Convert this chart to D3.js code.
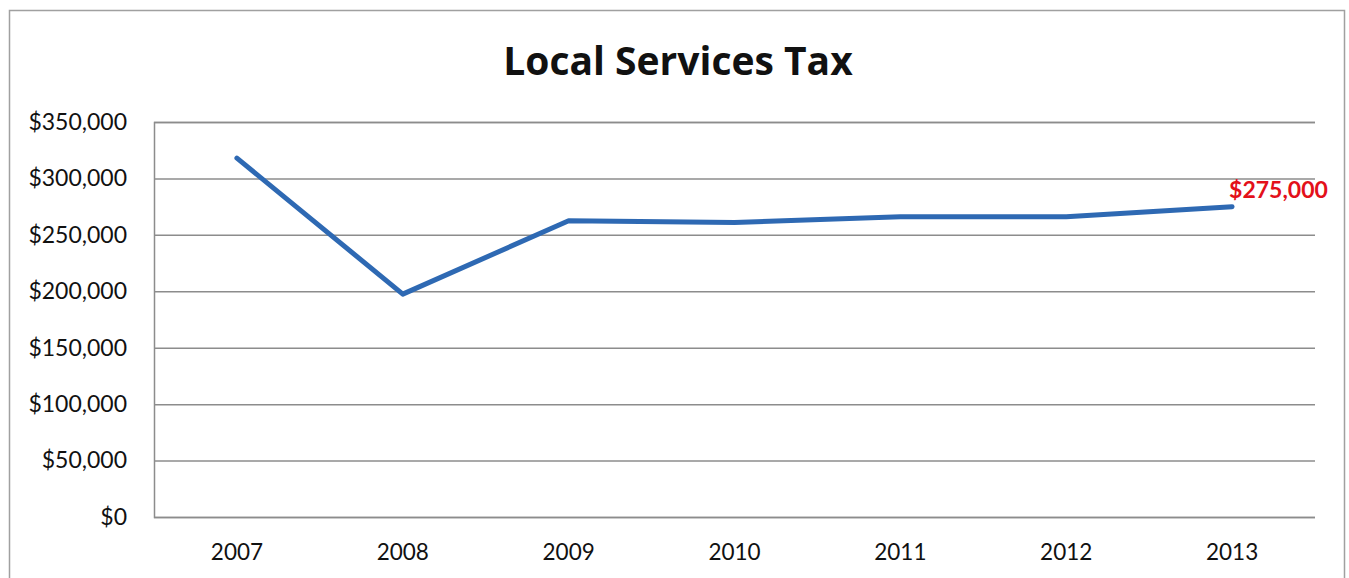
<!DOCTYPE html>
<html><head><meta charset="utf-8">
<script src="https://cdn.jsdelivr.net/npm/d3@7"></script>
<style>html,body{margin:0;padding:0;background:#fff;}svg{display:block;}</style>
</head><body>
<svg id="chart" width="1349" height="578"></svg>
<script>
const years = ["2007","2008","2009","2010","2011","2012","2013"];
const values = [318000, 197500, 262500, 261000, 266000, 266000, 275000];
const yTicks = [0, 50000, 100000, 150000, 200000, 250000, 300000, 350000];
const title = "Local Services Tax";
const endLabel = "$275,000";

const W = 1349, H = 578;
const m = {left:154, right:1315, top:122, bottom:517};
const svg = d3.select("#chart");
const font = "Lato, 'Open Sans', sans-serif";
const titleFont = "'Open Sans', Lato, sans-serif";

// outer border
svg.append("path").attr("d", `M9.5,578 L9.5,10.5 L1344.5,10.5 L1344.5,578`)
  .attr("fill","none").attr("stroke","#a0a0a0").attr("stroke-width",1.5);

const x = d3.scaleBand().domain(years).range([m.left, m.right]);
const y = d3.scaleLinear().domain([0, 350000]).range([m.bottom, m.top]);
const fmt = v => "$" + d3.format(",")(v);

// grid
const yAxis = d3.axisLeft(y).tickValues(yTicks).tickSize(-(m.right - m.left)).tickPadding(27).tickFormat(fmt);
const gy = svg.append("g").attr("transform", `translate(${m.left},0)`).call(yAxis);
gy.select(".domain").attr("stroke","#8c8c8c").attr("stroke-width",1.5);
gy.selectAll(".tick line").attr("stroke","#8c8c8c").attr("stroke-width",1.5);
gy.selectAll(".tick text").attr("font-family", font).attr("font-size", 23).attr("fill","#111");

const xAxis = d3.axisBottom(x).tickSize(0).tickPadding(27);
const gx = svg.append("g").attr("transform", `translate(0,${m.bottom})`).call(xAxis);
gx.select(".domain").remove();
gx.selectAll(".tick text").attr("font-family", font).attr("font-size", 22.5).attr("fill","#111");

// line
const line = d3.line().x((d,i) => x(years[i]) + x.bandwidth()/2).y(d => y(d));
svg.append("path").datum(values).attr("d", line)
  .attr("fill","none").attr("stroke","#2e69b3").attr("stroke-width",5)
  .attr("stroke-linejoin","round").attr("stroke-linecap","round");

// end label
const li = values.length - 1;
svg.append("text").attr("x", x(years[li]) + x.bandwidth()/2 - 3).attr("y", y(values[li]) - 9)
  .attr("font-family", font).attr("font-weight","bold").attr("font-size", 23)
  .attr("fill","#e3101a").text(endLabel);

// title
svg.append("text").attr("x", 678).attr("y", 75).attr("text-anchor","middle")
  .attr("font-family", titleFont).attr("font-weight","bold").attr("font-size", 39)
  .attr("fill","#111").text(title);
</script>
</body></html>
